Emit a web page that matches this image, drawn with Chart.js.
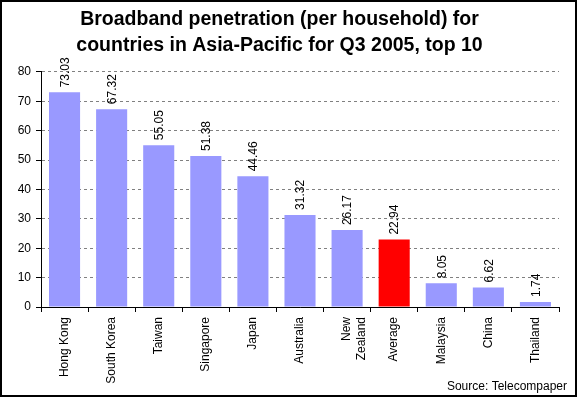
<!DOCTYPE html>
<html>
<head>
<meta charset="utf-8">
<script src="https://cdn.jsdelivr.net/npm/chart.js@4"></script>
<style>
  html, body { margin: 0; padding: 0; background: #fff; }
  #wrap { width: 577px; height: 397px; }
</style>
</head>
<body>
<div id="wrap"><canvas id="bbChart" width="577" height="397"></canvas></div>
<script>
const countries = ['Hong Kong', 'South Korea', 'Taiwan', 'Singapore', 'Japan', 'Australia',
  ['New', 'Zealand'], 'Average', 'Malaysia', 'China', 'Thailand'];
const penetration = [73.03, 67.32, 55.05, 51.38, 44.46, 31.32, 26.17, 22.94, 8.05, 6.62, 1.74];
const yTicks = [0, 10, 20, 30, 40, 50, 60, 70, 80];
const titleLines = ['Broadband penetration (per household) for', 'countries in Asia-Pacific for Q3 2005, top 10'];
const sourceText = 'Source: Telecompaper';

const FONT = 'Arial, "Liberation Sans", sans-serif';

// value labels above bars, frame and source note
const extras = {
  id: 'extras',
  afterDatasetsDraw(chart) {
    const ctx = chart.ctx;
    const meta = chart.getDatasetMeta(0);
    ctx.save();
    ctx.font = '12px ' + FONT;
    ctx.fillStyle = '#000';
    ctx.textAlign = 'left';
    ctx.textBaseline = 'middle';
    meta.data.forEach((bar, i) => {
      ctx.save();
      ctx.translate(bar.x, bar.y - 5);
      ctx.rotate(-Math.PI / 2);
      ctx.fillText(penetration[i].toFixed(2), 0, 1);
      ctx.restore();
    });
    ctx.restore();
  },
  afterDraw(chart) {
    const ctx = chart.ctx;
    ctx.save();
    ctx.font = '12px ' + FONT;
    ctx.fillStyle = '#000';
    ctx.textAlign = 'right';
    ctx.textBaseline = 'alphabetic';
    ctx.fillText(sourceText, 567, 390);
    ctx.strokeStyle = '#000';
    ctx.lineWidth = 2;
    ctx.strokeRect(1, 1, 575, 395);
    ctx.restore();
  }
};

new Chart(document.getElementById('bbChart').getContext('2d'), {
  type: 'bar',
  data: {
    labels: countries,
    datasets: [{
      data: penetration,
      backgroundColor: countries.map(c => c === 'Average' ? '#ff0000' : '#9999ff'),
      borderWidth: 0,
      barPercentage: 0.66,
      categoryPercentage: 1.0
    }]
  },
  options: {
    responsive: false,
    animation: false,
    layout: { padding: { left: 0, right: 18, top: 0, bottom: 0 } },
    scales: {
      x: {
        afterFit: s => { s.height = 90; },
        grid: { display: true, drawOnChartArea: false, drawTicks: true, tickLength: 5, tickColor: '#000', offset: true },
        border: { display: true, color: '#000', width: 1 },
        ticks: { color: '#000', font: { family: FONT, size: 12 }, minRotation: 90, maxRotation: 90, autoSkip: false, padding: 5 }
      },
      y: {
        min: 0,
        max: 80,
        afterFit: s => { s.width = 41; },
        afterBuildTicks: s => { s.ticks = yTicks.map(v => ({ value: v })); },
        grid: { color: '#808080', lineWidth: 1, tickLength: 5, tickColor: '#000', tickBorderDash: [] },
        border: { display: true, color: '#000', width: 1, dash: [3, 3] },
        ticks: { color: '#000', font: { family: FONT, size: 12 }, padding: 5 }
      }
    },
    plugins: {
      legend: { display: false },
      tooltip: { enabled: false },
      title: {
        display: true,
        text: titleLines,
        color: '#000',
        font: { family: FONT, size: 19.5, weight: 'bold', lineHeight: 1.33 },
        padding: { top: 7, bottom: 13 }
      }
    }
  },
  plugins: [extras]
});
</script>
</body>
</html>
